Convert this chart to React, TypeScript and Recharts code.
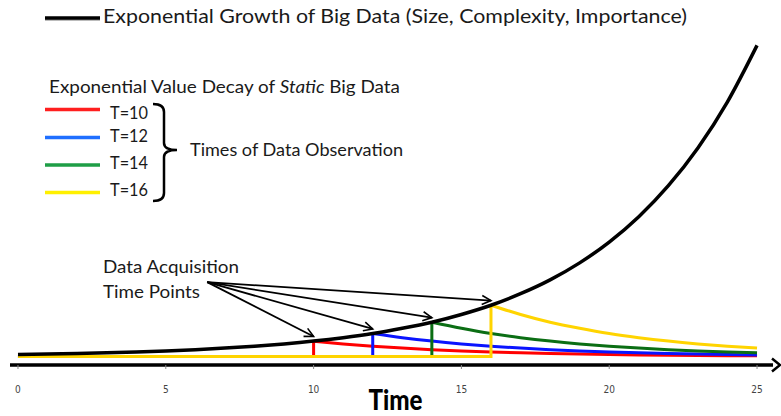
import React from 'react';
import { LineChart, Line, XAxis, YAxis } from 'recharts';

// ---- data ----
const timeTicks = [0, 5, 10, 15, 20, 25];
const growthTimes = [0, 1, 2, 3, 4, 5, 6, 7, 8, 9, 10, 11, 12, 13, 14, 15, 16, 17, 18, 19, 20, 21, 22, 23, 24, 25];
const growthValues = [1.0, 1.22, 1.49, 1.82, 2.23, 2.72, 3.32, 4.06, 4.95, 6.05, 7.39, 9.03, 11.0, 13.5, 16.4, 20.1, 24.5, 30.0, 36.6, 44.7, 54.6, 66.7, 81.5, 99.5, 121.5, 148.4];
const observationTimes = [10, 12, 14, 16];
const observationLabels = ['T=10', 'T=12', 'T=14', 'T=16'];
const decayT10 = [7.39, 6.05, 4.95, 4.06, 3.32, 2.72, 2.23, 1.82, 1.49, 1.22, 1.0, 0.82, 0.67, 0.55, 0.45, 0.37];
const decayT12 = [11.0, 9.03, 7.39, 6.05, 4.95, 4.06, 3.32, 2.72, 2.23, 1.82, 1.49, 1.22, 1.0, 0.82];
const decayT14 = [16.4, 13.5, 11.0, 9.03, 7.39, 6.05, 4.95, 4.06, 3.32, 2.72, 2.23, 1.82];
const decayT16 = [24.5, 20.1, 16.4, 13.5, 11.0, 9.03, 7.39, 6.05, 4.95, 4.06];
const arrowOriginTime = 6.4;
const arrowOriginValue = 35.5;
const arrowTipGap = 2.2;

const plotColors = ['#ff0000', '#0a14ff', '#0b6e14', '#ffd400'];
const legendColors = ['#ff1f1f', '#1f6fff', '#1e9e46', '#fff000'];

const decays = [decayT10, decayT12, decayT14, decayT16];

const growthData = growthTimes.map((t, i) => ({ t, v: growthValues[i] }));
const stepData = observationTimes.map((T, i) => [
  { t: 0, v: 0 },
  { t: T, v: 0 },
  { t: T, v: decays[i][0] },
]);
const decayData = observationTimes.map((T, i) => decays[i].map((v, k) => ({ t: T + k, v })));
const arrowData = observationTimes.map((T, i) => [
  { t: arrowOriginTime, v: arrowOriginValue },
  { t: T, v: decays[i][0] + arrowTipGap },
]);

const textFont = 'Lato, "Open Sans", sans-serif';
const narrowFont = '"Liberation Sans Narrow", "DejaVu Sans Condensed", sans-serif';

const TimeLabel = (props: any) => {
  const vb = props.viewBox || {};
  const cx = (vb.x || 0) + (vb.width || 0) / 2 + 4;
  const top = (vb.y || 0) + (vb.height || 0);
  return (
    <text x={cx} y={top + 14} textAnchor="middle" fontSize={28} fontWeight={900} fontFamily={textFont} fill="#000" textLength={54} lengthAdjust="spacingAndGlyphs">
      Time
    </text>
  );
};

export default function App() {
  return (
    <div style={{ position: 'absolute', left: 0, top: 0, width: 781, height: 416, background: '#fff' }}>
      <LineChart width={781} height={416} margin={{ top: 42, right: 8, bottom: 20, left: 10 }}>
        <XAxis
          dataKey="t"
          type="number"
          domain={[-0.27, 25.54]}
          ticks={timeTicks}
          tickSize={4}
          tickMargin={17}
          height={31}
          tickLine={{ stroke: '#888', strokeWidth: 1 }}
          axisLine={{ stroke: '#000', strokeWidth: 3.5, markerEnd: 'url(#axisArrow)' }}
          tick={{ fontSize: 10, fill: '#444', fontFamily: narrowFont }}
          label={{ value: 'Time', position: 'bottom', content: TimeLabel }}
        />
        <YAxis dataKey="v" type="number" domain={[-4, 150]} hide />
        {observationTimes.map((T, i) => [
          <Line key={'s' + i} data={stepData[i]} dataKey="v" type="linear" stroke={plotColors[i]} strokeWidth={3} dot={false} activeDot={false} isAnimationActive={false} />,
          <Line key={'d' + i} data={decayData[i]} dataKey="v" type="monotone" stroke={plotColors[i]} strokeWidth={3} dot={false} activeDot={false} isAnimationActive={false} />,
        ])}
        <Line data={growthData} dataKey="v" type="monotone" stroke="#000" strokeWidth={3.5} dot={false} activeDot={false} isAnimationActive={false} />
        {arrowData.map((d, i) => (
          <Line key={'a' + i} data={d} dataKey="v" type="linear" stroke="#000" strokeWidth={1.8} dot={false} activeDot={false} isAnimationActive={false} markerEnd="url(#ptArrow)" />
        ))}
      </LineChart>
      <svg width={781} height={416} style={{ position: 'absolute', left: 0, top: 0, pointerEvents: 'none' }}>
        <defs>
          <marker id="axisArrow" markerUnits="userSpaceOnUse" markerWidth={16} markerHeight={16} refX={1} refY={7} orient="auto" overflow="visible">
            <path d="M0,0.5 L8,7 L0,13.5" fill="none" stroke="#000" strokeWidth={2.5} />
          </marker>
          <marker id="ptArrow" markerUnits="userSpaceOnUse" markerWidth={12} markerHeight={12} refX={9} refY={5} orient="auto" overflow="visible">
            <path d="M0,0.5 L9,5 L0,9.5" fill="none" stroke="#000" strokeWidth={1.6} />
          </marker>
        </defs>
        {/* top legend */}
        <line x1={45} y1={20} x2={100} y2={20} stroke="#bbb" strokeWidth={2} />
        <line x1={45} y1={18} x2={100} y2={18} stroke="#000" strokeWidth={3.5} />
        <text x={103} y={23} fontSize={19} fontFamily={textFont} fill="#1a1a1a" textLength={584} lengthAdjust="spacingAndGlyphs">
          Exponential Growth of Big Data (Size, Complexity, Importance)
        </text>
        {/* decay legend */}
        <text x={49} y={93} fontSize={16.5} fontFamily={textFont} fill="#1a1a1a" textLength={351} lengthAdjust="spacingAndGlyphs">
          Exponential Value Decay of <tspan fontStyle="italic">Static</tspan> Big Data
        </text>
        {observationLabels.map((lab, i) => {
          const ys = [109.5, 137.5, 165, 192.5];
          const tys = [119, 142, 169, 196];
          return (
            <g key={lab}>
              <line x1={45} y1={ys[i]} x2={100} y2={ys[i]} stroke={legendColors[i]} strokeWidth={3.5} />
              <text x={110} y={tys[i]} fontSize={18} fontFamily={textFont} fill="#1a1a1a" textLength={38} lengthAdjust="spacingAndGlyphs">{lab}</text>
            </g>
          );
        })}
        <path d="M153,104 Q164,104 164,112 L164,143 Q164,150 177,150 Q164,150 164,157 L164,193 Q164,201 153,201" fill="none" stroke="#000" strokeWidth={2.5} />
        <text x={190} y={156} fontSize={17} fontFamily={textFont} fill="#1a1a1a" textLength={213} lengthAdjust="spacingAndGlyphs">
          Times of Data Observation
        </text>
        <text x={103} y={273} fontSize={17} fontFamily={textFont} fill="#1a1a1a" textLength={136} lengthAdjust="spacingAndGlyphs">
          Data Acquisition
        </text>
        <text x={103} y={298} fontSize={17} fontFamily={textFont} fill="#1a1a1a" textLength={97} lengthAdjust="spacingAndGlyphs">
          Time Points
        </text>
      </svg>
    </div>
  );
}
